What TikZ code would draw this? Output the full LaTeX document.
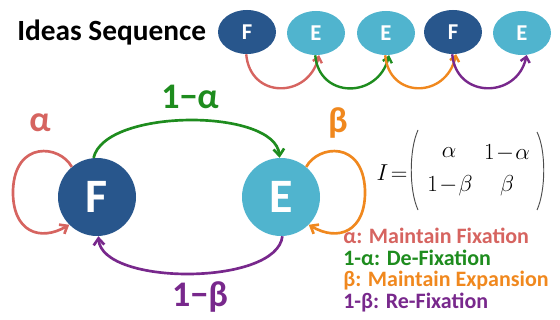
\documentclass[tikz,border=0pt]{standalone}
\usepackage{fontspec}
\setmainfont{Carlito}
\usetikzlibrary{shapes.geometric,arrows.meta}
\definecolor{fblue}{RGB}{40,86,140}
\definecolor{eblue}{RGB}{80,180,206}
\definecolor{cred}{RGB}{214,100,96}
\definecolor{cgreen}{RGB}{30,140,30}
\definecolor{corange}{RGB}{240,136,30}
\definecolor{cpurple}{RGB}{120,40,140}
\tikzset{
  bigF/.style={circle,fill=fblue,minimum size=58.5pt,inner sep=0pt,text=white,font=\fontsize{36}{36}\selectfont\bfseries},
  bigE/.style={bigF,fill=eblue},
  seqF/.style={ellipse,fill=fblue,minimum width=43.5pt,minimum height=33pt,inner sep=0pt,text=white,font=\fontsize{17}{17}\selectfont\bfseries},
  seqE/.style={seqF,fill=eblue},
  arr/.style={line width=2pt,-{Straight Barb[length=5pt,width=8pt,line width=2pt]}},
  sarr/.style={line width=1.8pt,-{Straight Barb[length=4pt,width=7pt,line width=1.8pt]}},
  lbl/.style={font=\fontsize{27}{27}\selectfont\bfseries},
  leg/.style={anchor=west,font=\fontsize{16.5}{16.5}\selectfont\bfseries,inner sep=0pt},
  mat/.style={font=\fontsize{18}{18}\selectfont,inner sep=0pt},
  paren/.style={line width=0.7pt,draw=black!70}
}
\begin{document}
\begin{tikzpicture}[x=0.75pt,y=-0.75pt]
\useasboundingbox (0,0) rectangle (560,320);
% sequence
\node[anchor=west,font=\fontsize{22}{22}\selectfont\bfseries,inner sep=0pt] (title) at (17,33) {Ideas Sequence};
\node[seqF] (s1) at (247,32) {F};
\node[seqE] (s2) at (316,33) {E};
\node[seqE] (s3) at (386,33) {E};
\node[seqF] (s4) at (453,32) {F};
\node[seqE] (s5) at (522,33) {E};
\draw[sarr,cred] (s1.-92) .. controls (250,99) and (308,99) .. (s2.-82);
\draw[sarr,cgreen] (s2.-92) .. controls (319,99) and (378,99) .. (s3.-82);
\draw[sarr,corange] (s3.-92) .. controls (389,99) and (446,99) .. (s4.-82);
\draw[sarr,cpurple] (s4.-92) .. controls (456,99) and (517,99) .. (s5.-78);
% main graph
\node[bigF] (F) at (97,197) {F};
\node[bigE] (E) at (281,197) {E};
\draw[arr,cgreen] (F.95) .. controls (105,108) and (275,108) .. (E.92);
\draw[arr,cpurple] (E.-88) .. controls (277,286) and (102,286) .. (F.-88);
\coordinate (la) at (13,190);
\coordinate (lb) at (365,190);
\draw[arr,cred] (F.130) .. controls (60,145) and (15,140) .. (la) .. controls (12,232) and (40,242) .. (F.-135);
\draw[arr,corange] (E.50) .. controls (318,145) and (363,140) .. (lb) .. controls (366,232) and (338,242) .. (E.-45);
\node[lbl,cred] (alpha) at (40,123) {α};
\node[lbl,corange] (beta) at (338,123) {β};
\node[lbl,cgreen] (oma) at (190,97) {1−α};
\node[lbl,cpurple] (omb) at (200,297) {1−β};
% matrix
\node[mat] (I) at (392,173) {$I\!=$};
\node[mat] (m11) at (449,153) {$\alpha$};
\node[mat] (m12) at (507,153) {$1\!-\!\alpha$};
\node[mat] (m21) at (450,186) {$1\!-\!\beta$};
\node[mat] (m22) at (507,186) {$\beta$};
\draw[paren] (418,130) .. controls (409,150) and (409,190) .. (418,210);
\draw[paren] (537,132) .. controls (546,150) and (546,190) .. (537,210);
% legend
\node[leg,cred] (l1) at (343,236) {α: Maintain Fixation};
\node[leg,cgreen] (l2) at (343,258) {1-α: De-Fixation};
\node[leg,corange] (l3) at (343,281) {β: Maintain Expansion};
\node[leg,cpurple] (l4) at (343,303) {1-β: Re-Fixation};
\end{tikzpicture}
\end{document}
